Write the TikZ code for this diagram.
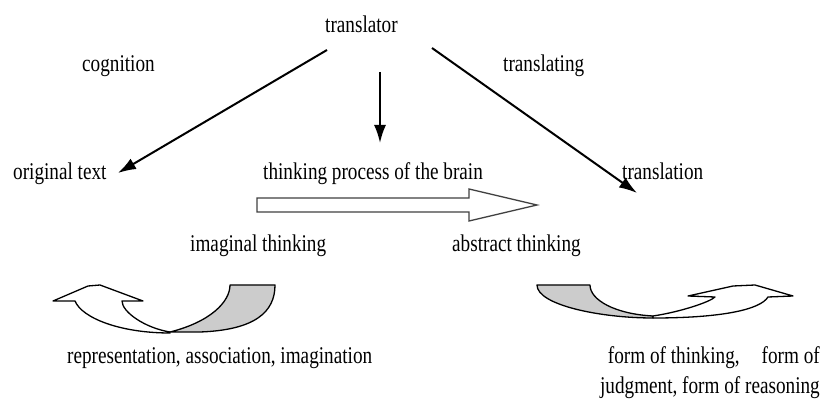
\documentclass[tikz,border=0pt]{standalone}
\usepackage{fontspec}
\setmainfont[FakeStretch=0.8]{Liberation Serif}
\usepackage{tikz}
\usetikzlibrary{
  	arrows.meta,
  	positioning,
  	calc
  }
\tikzstyle{lbl}=[inner sep=0pt, anchor=base west, font=\fontsize{24}{30}\selectfont]
\tikzstyle{thin arrow}=[line width=2pt, -{Latex[length=18pt,width=12pt]}]
\tikzstyle{band}=[draw=black, line width=1.3pt, line join=round]
\definecolor{bandgray}{gray}{0.80}

\begin{document}
\begin{tikzpicture}[x=1pt,y=-1pt]
  \useasboundingbox (0,0) rectangle (822,403);
  \node[lbl] (tr) at (325,33) {translator};
  \node[lbl] (cog) at (82,72) {cognition};
  \node[lbl] (trg) at (503,72) {translating};
  \node[lbl] (orig) at (13,180) {original text};
  \node[lbl] (proc) at (263,180) {thinking process of the brain};
  \node[lbl] (trn) at (622,180) {translation};
  \node[lbl] (imag) at (190,252) {imaginal thinking};
  \node[lbl] (abst) at (452,252) {abstract thinking};
  \node[lbl] (rep) at (67,363) {representation, association, imagination};
  \node[lbl, anchor=base east, align=right] (form) at (820,393)
     {form of thinking,\hspace{22pt}form of\\judgment, form of reasoning};
%
  \coordinate (trL) at (327,50);
  \coordinate (trM) at (380,72);
  \coordinate (trR) at (432,48);
  \coordinate (origE) at (118,173);
  \coordinate (procN) at (380,143);
  \coordinate (trnW) at (637,193);
  \draw[thin arrow] (trL) -- (origE);
  \draw[thin arrow] (trM) -- (procN);
  \draw[thin arrow] (trR) -- (trnW);
%
  % hollow arrow
  \draw[line width=1.3pt, draw=black!75, fill=white, line join=miter]
     (257,198) -- (469,198) -- (469,189) -- (537,205) -- (469,221)
     -- (469,212) -- (257,212) -- cycle;
%
  % left curved arrow
  \draw[band, fill=bandgray]
     (230,285) -- (275,285) .. controls (275,312) and (255,330) .. (200,332)
     -- (170,332) .. controls (210,322) and (230,302) .. (230,285) -- cycle;
  \draw[band, fill=white]
     (170,332) .. controls (145,328) and (122,312) .. (122,301)
     -- (143,301) -- (100,285) -- (88,286) -- (53,301) -- (75,301)
     .. controls (82,318) and (120,333) .. (170,333) -- cycle;
%
  % right curved arrow
  \draw[band, fill=bandgray]
     (537,285) -- (590,285) .. controls (590,300) and (615,314) .. (653,316)
     -- (653,318) .. controls (600,318) and (537,305) .. (537,285) -- cycle;
  \draw[band, fill=white]
     (653,316) .. controls (680,312) and (710,302) .. (715,297)
     -- (688,296) -- (733,286) -- (755,285) -- (793,296) -- (768,297)
     .. controls (760,310) and (720,318) .. (653,318) -- cycle;
\end{tikzpicture}
\end{document}
